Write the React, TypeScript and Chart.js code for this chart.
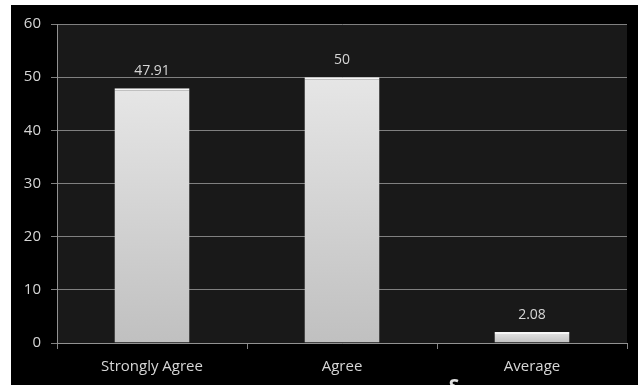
import React, { useEffect, useRef } from "react";
import { Chart, registerables } from "chart.js";

Chart.register(...registerables);

const categories = ["Strongly Agree", "Agree", "Average"];
const values = [47.91, 50, 2.08];
const valueLabels = ["47.91", "50", "2.08"];
const yMin = 0;
const yMax = 60;
const yStep = 10;
const strayText = "S";

const FONT = "'Open Sans', 'Noto Sans', sans-serif";

export default function App() {
  const ref = useRef<HTMLCanvasElement>(null);

  useEffect(() => {
    const canvas = ref.current;
    if (!canvas) return;

    const bgPlugin = {
      id: "plotBg",
      beforeDraw(chart: any) {
        const { ctx, chartArea: a } = chart;
        ctx.save();
        ctx.fillStyle = "#191919";
        ctx.fillRect(a.left, a.top, a.right - a.left, a.bottom - a.top);
        ctx.restore();
      },
    };

    const labelPlugin = {
      id: "valueLabels",
      afterDatasetsDraw(chart: any) {
        const { ctx } = chart;
        const meta = chart.getDatasetMeta(0);
        ctx.save();
        ctx.fillStyle = "#d6d6d6";
        ctx.font = `14px ${FONT}`;
        ctx.textAlign = "center";
        ctx.textBaseline = "middle";
        meta.data.forEach((bar: any, i: number) => {
          ctx.fillText(valueLabels[i], bar.x, bar.y - 17);
        });
        ctx.restore();
      },
      afterDraw(chart: any) {
        const { ctx } = chart;
        ctx.save();
        ctx.fillStyle = "#e0e0e0";
        ctx.font = `bold 19px ${FONT}`;
        ctx.textAlign = "center";
        ctx.textBaseline = "alphabetic";
        ctx.fillText(strayText, 443, 388);
        ctx.restore();
      },
    };

    const chart = new Chart(canvas, {
      type: "bar",
      data: {
        labels: categories,
        datasets: [
          {
            data: values,
            backgroundColor: (c: any) => {
              const ch = c.chart;
              const a = ch.chartArea;
              const ys = ch.scales?.y;
              if (!a || !ys || c.raw == null) return "#d0d0d0";
              const top = ys.getPixelForValue(c.raw);
              const g = ch.ctx.createLinearGradient(0, top, 0, a.bottom);
              g.addColorStop(0, "#e6e6e6");
              g.addColorStop(1, "#c0c0c0");
              return g;
            },
            borderColor: "#f6f6f6",
            borderWidth: { top: 2, left: 0, right: 0, bottom: 0 },
            borderSkipped: "bottom",
            barPercentage: 0.79,
            categoryPercentage: 0.5,
          },
        ],
      },
      options: {
        responsive: false,
        animation: false,
        devicePixelRatio: 1,
        layout: { padding: { top: 18, right: 11, left: 0, bottom: 0 } },
        plugins: {
          legend: { display: false },
          tooltip: { enabled: false },
          title: { display: false },
        },
        scales: {
          x: {
            offset: true,
            grid: {
              display: true,
              offset: true,
              drawOnChartArea: false,
              drawTicks: true,
              tickLength: 6,
              color: "#858585",
            },
            border: { display: true, color: "#929292", width: 1 },
            ticks: {
              color: "#d6d6d6",
              font: { family: FONT, size: 15 },
              padding: 9,
              maxRotation: 0,
            },
            afterFit: (s: any) => {
              s.height = 42;
            },
          },
          y: {
            min: yMin,
            max: yMax,
            grid: {
              display: true,
              drawTicks: true,
              tickLength: 6,
              color: "#808080",
            },
            border: { display: true, color: "#929292", width: 1 },
            ticks: {
              stepSize: yStep,
              color: "#d6d6d6",
              font: { family: FONT, size: 15 },
              padding: 10,
            },
            afterFit: (s: any) => {
              s.width = 46;
            },
          },
        },
      },
      plugins: [bgPlugin, labelPlugin],
    } as any);

    return () => chart.destroy();
  }, []);

  return (
    <div
      style={{
        position: "fixed",
        left: 0,
        top: 0,
        width: 638,
        height: 385,
        background: "#ffffff",
        overflow: "hidden",
      }}
    >
      <div
        style={{
          position: "absolute",
          left: 11,
          top: 5,
          width: 627,
          height: 380,
          background: "#000000",
        }}
      >
        <canvas ref={ref} width={627} height={380} style={{ display: "block" }} />
      </div>
    </div>
  );
}
